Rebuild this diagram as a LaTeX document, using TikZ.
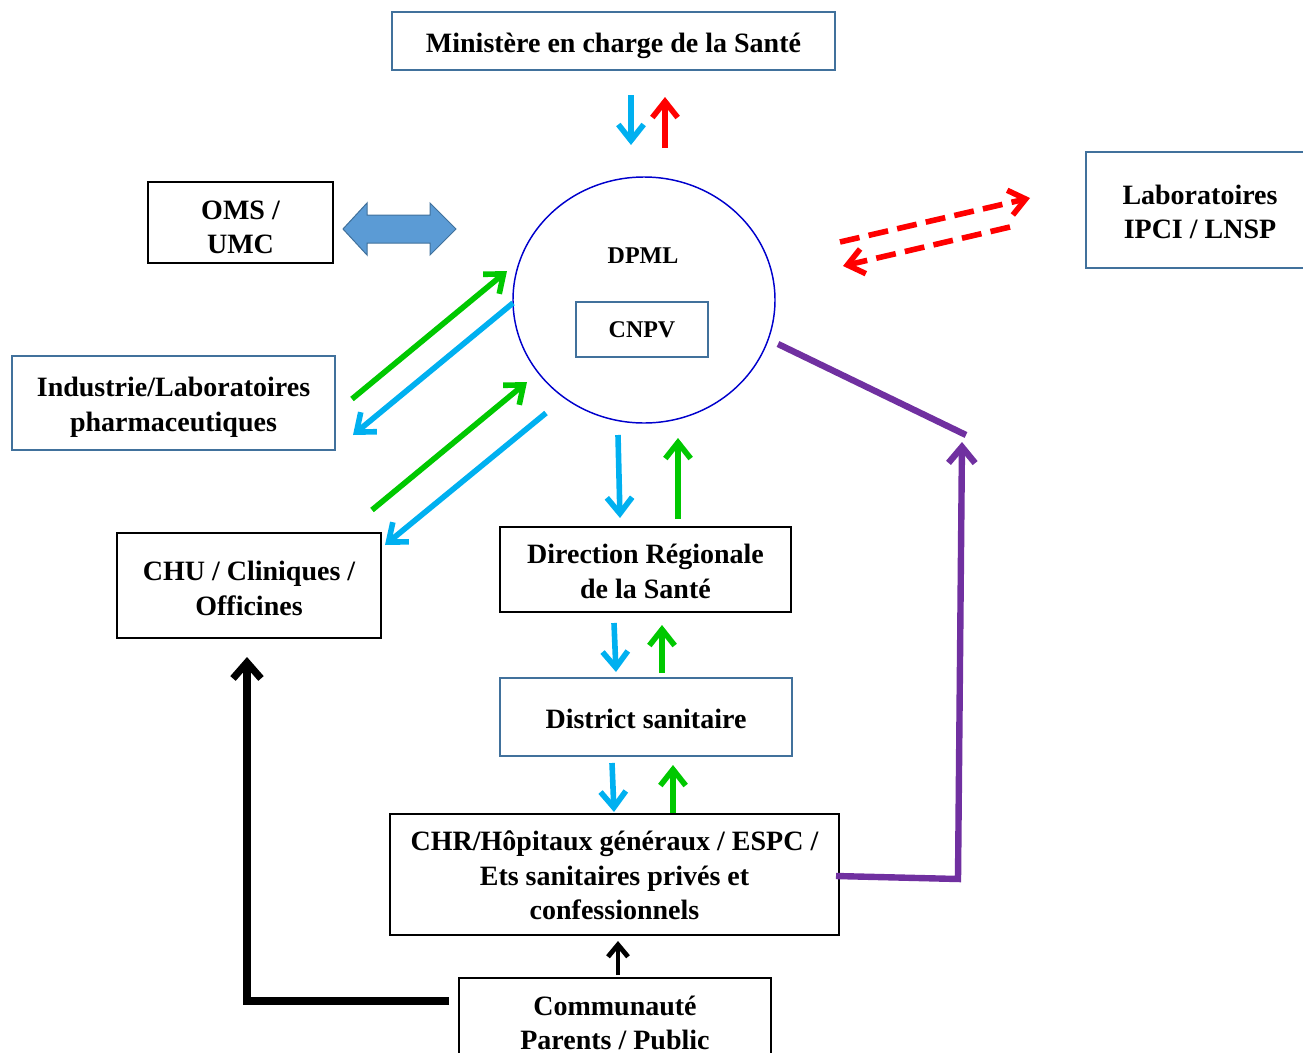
\documentclass[tikz,border=0pt]{standalone}
\usepackage{fontspec}
\setmainfont{Liberation Serif}
\usetikzlibrary{arrows.meta,shapes.geometric}
\definecolor{boxblue}{HTML}{41719C}
\definecolor{arrblue}{HTML}{00B0F0}
\definecolor{arrgreen}{HTML}{00C800}
\definecolor{arrred}{HTML}{FF0000}
\definecolor{purp}{HTML}{7030A0}
\definecolor{dblfill}{HTML}{5B9BD5}
\definecolor{circblue}{HTML}{0000CC}
\tikzset{
  box/.style={draw=black, line width=1.5pt, inner sep=0pt},
  bbox/.style={box, draw=boxblue},
  txt/.style={inner sep=0pt, align=center, font=\fontsize{21}{26}\selectfont\bfseries},
  arr/.style={line width=4.2pt, -{Straight Barb[length=12pt,width=19pt]}},
  barr/.style={arr, draw=arrblue},
  garr/.style={arr, draw=arrgreen},
  rarr/.style={arr, draw=arrred},
  rdash/.style={arr, draw=arrred, dash pattern=on 15pt off 7pt},
  parr/.style={line width=4.8pt, draw=purp},
  karr/.style={line width=5.4pt, draw=black}
}
\begin{document}
\begin{tikzpicture}[x=0.75pt,y=-0.75pt]
\useasboundingbox (0,0) rectangle (1303,1053);

% boxes
\node[bbox, minimum width=332.25pt, minimum height=43.5pt] (min) at (613.5,41) {};
\node[txt] (mint) at ([yshift=-3.75pt]min.center) {Ministère en charge de la Santé};
\node[box, minimum width=138.75pt, minimum height=60.75pt] (oms) at (240.5,222.5) {};
\node[txt] (omst) at ([yshift=-3.75pt]oms.center) {OMS /\\UMC};
\node[bbox, minimum width=171pt, minimum height=87pt] (lab) at (1200,210) {};
\node[txt] (labt) at ([yshift=-1.5pt]lab.center) {Laboratoires\\IPCI / LNSP};
\node[ellipse, draw=circblue, line width=1.1pt, minimum width=196.5pt, minimum height=184.5pt, inner sep=0pt] (dpml) at (644,300) {};
\node[font=\fontsize{18}{22}\selectfont\bfseries, inner sep=0pt] (dpmlt) at (643,256) {DPML};
\node[bbox, font=\fontsize{18}{22}\selectfont\bfseries, minimum width=99pt, minimum height=41.25pt] (cnpv) at (642,329.5) {CNPV};
\node[bbox, minimum width=242.25pt, minimum height=70.5pt] (ind) at (173.5,403) {};
\node[txt] (indt) at ([yshift=-3pt]ind.center) {Industrie/Laboratoires\\pharmaceutiques};
\node[box, minimum width=198pt, minimum height=78.75pt] (chu) at (249,585.5) {};
\node[txt] (chut) at ([yshift=-2.25pt]chu.center) {CHU / Cliniques /\\Officines};
\node[box, minimum width=218.25pt, minimum height=63.75pt] (dr) at (645.5,569.5) {};
\node[txt] (drt) at ([yshift=-1.5pt]dr.center) {Direction Régionale\\de la Santé};
\node[bbox, minimum width=219pt, minimum height=58.5pt] (dist) at (646,717) {};
\node[txt] (distt) at ([yshift=-1.5pt]dist.center) {District sanitaire};
\node[box, minimum width=336.75pt, minimum height=90.75pt] (chr) at (614.5,874.5) {};
\node[txt] (chrt) at ([yshift=-0.75pt]chr.center) {CHR/Hôpitaux généraux / ESPC /\\Ets sanitaires privés et\\confessionnels};
\node[box, minimum width=234pt, minimum height=67.5pt] (com) at (615,1023) {};
\node[txt] (comt) at (com.center) {Communauté\\Parents / Public};

% double arrow OMS <-> DPML
\draw[draw=boxblue, fill=dblfill, line width=0.75pt, line join=miter]
  (343,229) -- (367,203) -- (367,215) -- (430,215) -- (430,203) -- (456,229)
  -- (430,255) -- (430,243) -- (367,243) -- (367,255) -- cycle;

% Ministere <-> DPML
\coordinate (m1) at (631,95);  \coordinate (m2) at (631,145);
\coordinate (m3) at (665,148); \coordinate (m4) at (665,97);
\draw[barr] (m1) -- (m2);
\draw[rarr] (m3) -- (m4);

% Laboratoires <-> DPML (dashed red)
\coordinate (l1) at (840,242); \coordinate (l2) at (1030,198);
\coordinate (l3) at (1010,227); \coordinate (l4) at (843,266);
\draw[rdash] (l1) -- (l2);
\draw[rdash] (l3) -- (l4);

% Industrie <-> DPML
\coordinate (i1) at (352,399); \coordinate (i2) at (507,271);
\coordinate (i3) at (513,303); \coordinate (i4) at (353,435);
\draw[garr] (i1) -- (i2);
\draw[barr] (i3) -- (i4);

% CHU <-> DPML
\coordinate (c1) at (372,510); \coordinate (c2) at (527,382);
\coordinate (c3) at (546,413); \coordinate (c4) at (385,545);
\draw[garr] (c1) -- (c2);
\draw[barr] (c3) -- (c4);

% DPML <-> DR
\coordinate (d1) at (618,435); \coordinate (d2) at (620,518);
\coordinate (d3) at (678,519); \coordinate (d4) at (678,438);
\draw[barr] (d1) -- (d2);
\draw[garr] (d3) -- (d4);

% DR <-> District
\coordinate (e1) at (614,623); \coordinate (e2) at (616,672);
\coordinate (e3) at (662,673); \coordinate (e4) at (662,625);
\draw[barr] (e1) -- (e2);
\draw[garr] (e3) -- (e4);

% District <-> CHR
\coordinate (f1) at (612,763); \coordinate (f2) at (614,812);
\coordinate (f3) at (673,813); \coordinate (f4) at (673,765);
\draw[barr] (f1) -- (f2);
\draw[garr] (f3) -- (f4);

% Communaute -> CHR
\coordinate (g1) at (618,975); \coordinate (g2) at (618,941);
\draw[line width=3.6pt, -{Straight Barb[length=9pt,width=15pt]}] (g1) -- (g2);

% Communaute -> CHU
\coordinate (h1) at (449,1001); \coordinate (h2) at (247,1001); \coordinate (h3) at (247,657);
\draw[karr, -{Straight Barb[length=12pt,width=21pt]}] (h1) -- (h2) -- (h3);

% CHR -> DPML (purple)
\coordinate (p1) at (836,876); \coordinate (p2) at (958,879); \coordinate (p3) at (962,442);
\draw[parr, -{Straight Barb[length=12pt,width=20pt]}] (p1) -- (p2) -- (p3);
\coordinate (q1) at (778,344); \coordinate (q2) at (966,435);
\draw[parr] (q1) -- (q2);
\end{tikzpicture}
\end{document}
